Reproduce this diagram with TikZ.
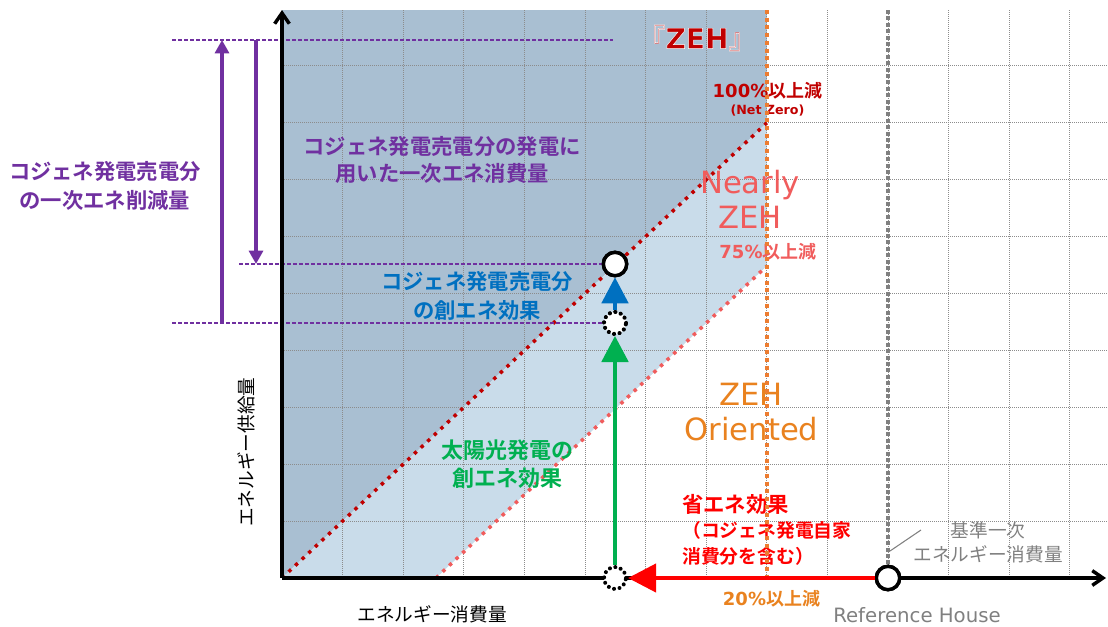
\documentclass[tikz,border=0pt]{standalone}
\usepackage{fontspec}
\setmainfont{DejaVu Sans}
\newfontfamily\jp{Noto Sans CJK JP}[BoldFont={Noto Sans CJK JP Bold}]
\newfontfamily\zehfont{DejaVu Sans Bold}[FakeBold=1.6]
\newfontfamily\zehjp{Noto Sans CJK JP}[FakeBold=1.6]
\usetikzlibrary{arrows.meta}
\definecolor{darkbg}{HTML}{A9BFD2}
\definecolor{lightbg}{HTML}{C9DCEA}
\definecolor{zred}{HTML}{C00000}
\definecolor{zpink}{HTML}{F05C5C}
\definecolor{zorange}{HTML}{ED7D31}
\definecolor{ztext}{HTML}{E9821F}
\definecolor{zpurple}{HTML}{7030A0}
\definecolor{zblue}{HTML}{0070C0}
\definecolor{zgreen}{HTML}{00B050}
\definecolor{zgrid}{HTML}{8C8C8C}
\definecolor{txtgray}{HTML}{808080}
\begin{document}
\begin{tikzpicture}[x=0.75pt,y=-0.75pt,
  gridline/.style={draw=zgrid, line width=0.75pt, dash pattern=on 0.75pt off 0.75pt},
  reddiag/.style={draw=zred, line width=2.6pt, dash pattern=on 2.6pt off 4.2pt},
  pinkdiag/.style={draw=zpink, line width=2.6pt, dash pattern=on 2.6pt off 4.2pt},
  orangeline/.style={draw=zorange, line width=2.7pt, dash pattern=on 3pt off 2.8pt},
  grayline/.style={draw=txtgray, line width=2.4pt, dash pattern=on 3pt off 1.8pt},
  pdash/.style={draw=zpurple, line width=0.8pt, dash pattern=on 3pt off 1.5pt},
  parrow/.style={draw=zpurple, line width=2.3pt, -{Triangle[width=10.5pt,length=10pt]}},
  axisline/.style={draw=black, line width=2.6pt, -{Straight Barb[length=8pt,width=11pt]}},
  solidc/.style={circle, draw=black, fill=white, line width=2.6pt, minimum size=17.5pt, inner sep=0pt},
  dotc/.style={circle, draw=black, fill=white, line width=3pt, line cap=round, dash pattern=on 0.01pt off 4.2pt, minimum size=16.5pt, inner sep=0pt},
  garrow/.style={draw=zgreen, line width=2.3pt, -{Triangle[width=20pt,length=19.5pt]}},
  barrow/.style={draw=zblue, line width=2.3pt, -{Triangle[width=20pt,length=19.5pt]}},
  rarrow/.style={draw=red, line width=3pt, -{Triangle[width=21pt,length=21pt]}},
  jpbig/.style={font=\jp\bfseries\fontsize{16}{21.75}\selectfont, align=center, inner sep=0pt},
  latbig/.style={font=\fontsize{23}{27}\selectfont, inner sep=0pt, anchor=base},
  pct/.style={font=\bfseries\fontsize{13.5}{16}\selectfont, inner sep=0pt, anchor=base},
]
\useasboundingbox (0,0) rectangle (1108,626);
\coordinate (O) at (282,578);
% shading
\fill[darkbg] (282,10) -- (766.8,10) -- (766.8,122.8) -- (O) -- cycle;
\fill[lightbg] (O) -- (766.8,122.8) -- (766.8,266) -- (436,578) -- cycle;
% grid
\foreach \i in {1,...,13} \draw[gridline] ({282+60.6*\i},10) -- ({282+60.6*\i},578);
\foreach \j in {1,...,9} \draw[gridline] (282,{578-56.9*\j}) -- (1108,{578-56.9*\j});
% diagonals
\coordinate (D1) at (766.8,122.8);
\coordinate (D2a) at (436,578);
\coordinate (D2b) at (766.8,266);
\draw[reddiag] (O) -- (D1);
\draw[pinkdiag] (D2a) -- (D2b);
% circle positions
\node[solidc] (P1) at (615,264) {};
\node[dotc] (P2) at (615,323) {};
% purple dashed guides
\coordinate (g1a) at (172,40); \coordinate (g1b) at (613,40);
\coordinate (g2a) at (239,264);
\coordinate (g3a) at (172,323);
\draw[pdash] (g1a) -- (g1b);
\draw[pdash] (g2a) -- (P1.west);
\draw[pdash] (g3a) -- (P2.west);
% purple arrows
\coordinate (a1s) at (222,323); \coordinate (a1e) at (222,40);
\coordinate (a2s) at (256,40); \coordinate (a2e) at (256,264);
\draw[parrow] (a1s) -- (a1e);
\draw[parrow] (a2s) -- (a2e);
% texts
\node[jpbig, text=zpurple] (tl) at (105,185.5) {コジェネ発電売電分\\の一次エネ削減量};
\node[jpbig, text=zpurple, font=\jp\bfseries\fontsize{16}{20.25}\selectfont] (tin) at (442,159.5) {コジェネ発電売電分の発電に\\用いた一次エネ消費量};
\node[jpbig, text=zblue] (tb) at (477,295.5) {コジェネ発電売電分\\の創エネ効果};
\node[jpbig, text=zgreen, font=\jp\bfseries\fontsize{16.5}{21}\selectfont] (tg) at (507,464) {太陽光発電の\\創エネ効果};
\node[text=red, font=\jp\bfseries\fontsize{16}{19}\selectfont, inner sep=0pt, anchor=west] (tr1) at (682,504) {省エネ効果};
\node[text=red, font=\jp\bfseries\fontsize{14.1}{19.5}\selectfont, inner sep=0pt, anchor=west, align=left] (tr2) at (682,543) {（コジェネ発電自家\\消費分を含む）};
% ZEH title: red glyphs stroked in white
\node[text=zred, font=\fontsize{21}{24}\selectfont, inner sep=0pt] (zeh) at (697,38) {\special{pdf:code 1 1 1 RG}{\zehjp 『}{\zehfont ZEH}{\zehjp 』}};
\node[pct, text=zred] (t100) at (767.5,97) {100\%{\jp\bfseries 以上減}};
\node[text=zred, font=\bfseries\fontsize{9.5}{11}\selectfont, inner sep=0pt, anchor=base] (tnz) at (767.5,114) {(Net Zero)};
\node[latbig, text=zpink] (tn1) at (750,193) {Nearly};
\node[latbig, text=zpink] (tn2) at (750,228) {ZEH};
\node[pct, text=zpink] (t75) at (768,258) {75\%{\jp\bfseries 以上減}};
\node[latbig, text=ztext] (to1) at (751,405) {ZEH};
\node[latbig, text=ztext] (to2) at (751.5,440) {Oriented};
\node[pct, text=ztext] (t20) at (771.5,605) {20\%{\jp\bfseries 以上減}};
\node[text=txtgray, font=\fontsize{14.8}{17}\selectfont, inner sep=0pt, anchor=base] (tref) at (917,622) {Reference House};
\node[text=txtgray, font=\jp\fontsize{14}{18}\selectfont, inner sep=0pt, align=center] (tstd) at (988,542) {基準一次\\エネルギー消費量};
\node[text=black, font=\jp\fontsize{14}{17}\selectfont, inner sep=0pt] (tx) at (432,614) {エネルギー消費量};
\node[text=black, font=\jp\fontsize{14}{17}\selectfont, inner sep=0pt, rotate=90] (ty) at (246.5,452) {エネルギー供給量};
% vertical lines
\node[solidc] (R) at (888,578) {};
\coordinate (ot) at (766.8,10); \coordinate (ob) at (766.8,578);
\draw[orangeline] (ot) -- (ob);
\coordinate (gt) at (888,10);
\draw[grayline] (gt) -- (R.north);
\coordinate (l1) at (921,530); \coordinate (l2) at (890,551);
\draw[txtgray, line width=0.8pt] (l1) -- (l2);
% axes
\coordinate (yt) at (282,10); \coordinate (xe) at (1106,578);
\draw[axisline] (O) -- (yt);
\draw[axisline] (O) -- (xe);
% circles on axis and on top
\node[dotc] (P3) at (615,578) {};
\node[solidc] (R2) at (888,578) {};
\node[solidc] (P1b) at (615,264) {};
\node[dotc] (P2b) at (615,323) {};
% arrows
\draw[rarrow] (R2.west) -- (P3.east);
\draw[garrow] (P3.north) -- (P2b.south);
\draw[barrow] (P2b.north) -- (P1b.south);
\end{tikzpicture}
\end{document}
